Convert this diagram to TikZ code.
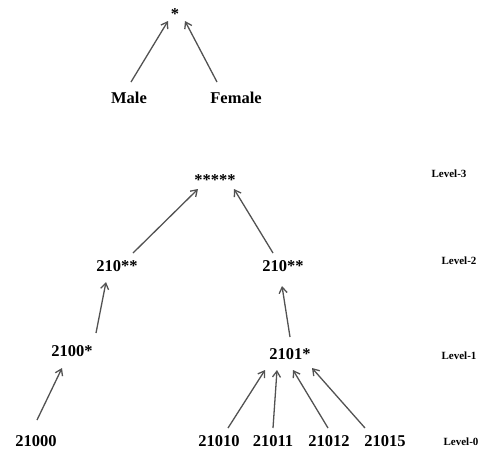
\documentclass[tikz,border=0pt]{standalone}
\usepackage{fontspec}
\setmainfont{Liberation Serif}
\usetikzlibrary{arrows.meta,calc}
\begin{document}
\begin{tikzpicture}[x=1pt,y=-1pt,
  lbl/.style={font=\bfseries\fontsize{16.5}{18}\selectfont, inner sep=1pt},
  lvl/.style={font=\bfseries\fontsize{11}{13}\selectfont, inner sep=1pt},
  arr/.style={draw=black!68, line width=1.3pt, -{Straight Barb[length=6pt,width=8pt,line width=1.3pt]}}]
\useasboundingbox (0,0) rectangle (486,459);
% top
\node[lbl] (s1) at (175,14) {*};
\node[lbl] (male) at (129,98) {Male};
\node[lbl] (female) at (236,98) {Female};
% tree
\node[lbl] (s5) at (215,180) {*****};
\node[lbl] (a) at (117,266) {210**};
\node[lbl] (b) at (283,266) {210**};
\node[lbl] (c) at (72,351) {2100*};
\node[lbl] (d) at (290,354) {2101*};
\node[lbl] (e) at (36,441) {21000};
\node[lbl] (f) at (219,441) {21010};
\node[lbl] (g) at (273,441) {21011};
\node[lbl] (h) at (329,441) {21012};
\node[lbl] (i) at (385,441) {21015};
% levels
\node[lvl] (L3) at (449,174) {Level-3};
\node[lvl] (L2) at (459,261) {Level-2};
\node[lvl] (L1) at (459,356) {Level-1};
\node[lvl] (L0) at (461,442) {Level-0};
% arrows
\draw[arr] ($(male)+(2,-16)$) -- ($(s1)+(-7,7)$);
\draw[arr] ($(female)+(-19,-16)$) -- ($(s1)+(10,7)$);
\draw[arr] ($(a)+(16,-13)$) -- ($(s5)+(-17,9)$);
\draw[arr] ($(b)+(-10,-13)$) -- ($(s5)+(19,9)$);
\draw[arr] ($(c)+(24,-18)$) -- ($(a)+(-11,16)$);
\draw[arr] ($(e)+(1,-21)$) -- ($(c)+(-10,17)$);
\draw[arr] ($(d)+(0,-17)$) -- ($(b)+(-1,20)$);
\draw[arr] ($(f)+(9,-13)$) -- ($(d)+(-25,16)$);
\draw[arr] ($(g)+(0,-13)$) -- ($(d)+(-13,16)$);
\draw[arr] ($(h)+(-1,-13)$) -- ($(d)+(3,16)$);
\draw[arr] ($(i)+(-20,-13)$) -- ($(d)+(22,14)$);
\end{tikzpicture}
\end{document}
